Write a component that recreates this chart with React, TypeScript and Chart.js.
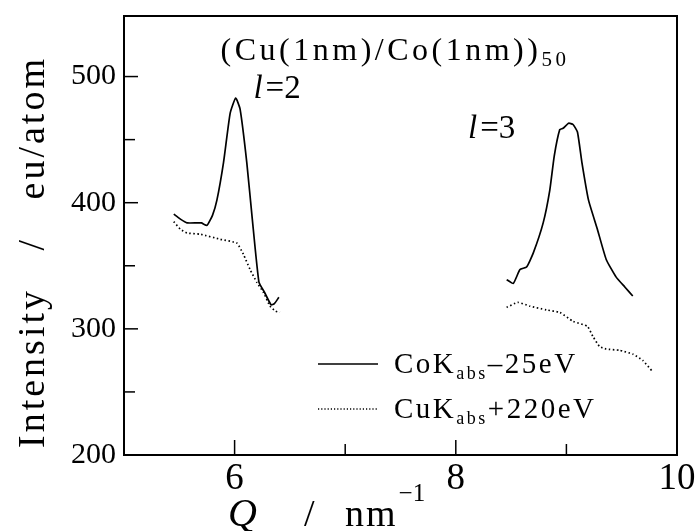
import React, { useEffect, useRef } from "react";
import { Chart, registerables } from "chart.js";
Chart.register(...registerables);

// l=2 region, CoK_abs - 25 eV (solid)
const solidQ2 = [5.45, 5.51, 5.57, 5.66, 5.70, 5.75, 5.80, 5.84, 5.90, 5.96, 6.01, 6.05, 6.11, 6.16, 6.22, 6.27, 6.33, 6.36, 6.40];
const solidI2 = [391, 387, 384, 384, 384, 382, 390, 402, 432, 471, 483, 474, 432, 387, 337, 329, 319, 320, 325];
// l=3 region, CoK_abs - 25 eV (solid)
const solidQ3 = [8.46, 8.52, 8.58, 8.64, 8.70, 8.79, 8.85, 8.89, 8.94, 8.97, 9.02, 9.06, 9.10, 9.14, 9.20, 9.28, 9.36, 9.45, 9.53, 9.60];
const solidI3 = [339, 336, 347, 349, 360, 384, 410, 437, 458, 459, 463, 462, 456, 432, 402, 379, 355, 341, 333, 326];
// l=2 region, CuK_abs + 220 eV (dotted)
const dottedQ2 = [5.45, 5.51, 5.57, 5.69, 5.87, 6.02, 6.08, 6.14, 6.20, 6.26, 6.32, 6.37, 6.41];
const dottedI2 = [385, 379, 376, 375, 371, 368, 359, 347, 337, 329, 318, 314, 313];
// l=3 region, CuK_abs + 220 eV (dotted)
const dottedQ3 = [8.46, 8.56, 8.67, 8.82, 8.94, 9.06, 9.19, 9.24, 9.30, 9.36, 9.48, 9.60, 9.69, 9.78];
const dottedI3 = [317, 321, 318, 315, 313, 306, 302, 294, 286, 284, 283, 280, 275, 266];

const xTicks = [6, 8, 10];
const xMinorTicks = [7, 9];
const yTicks = [200, 300, 400, 500];
const yMinorTicks = [250, 350, 450];

const titleMain = "(Cu(1nm)/Co(1nm))";
const titleSub = "50";
const legendSolid = ["CoK", "abs", "\u201325eV"];
const legendDotted = ["CuK", "abs", "+220eV"];

const FONT = '"Liberation Serif", "Times New Roman", serif';

function pts(xs: number[], ys: number[]) {
  return xs.map((x, i) => ({ x, y: ys[i] }));
}

export default function App() {
  const ref = useRef<HTMLCanvasElement>(null);
  useEffect(() => {
    const overlay = {
      id: "overlay",
      afterDraw(chart: any) {
        const { ctx, chartArea: a } = chart;
        const xs = chart.scales.x;
        const ys = chart.scales.y;
        ctx.save();
        ctx.strokeStyle = "#000";
        ctx.fillStyle = "#000";
        ctx.lineWidth = 2;
        ctx.strokeRect(a.left, a.top, a.right - a.left, a.bottom - a.top);
        ctx.lineWidth = 1.5;
        const seg = (x1: number, y1: number, x2: number, y2: number) => {
          ctx.beginPath();
          ctx.moveTo(x1, y1);
          ctx.lineTo(x2, y2);
          ctx.stroke();
        };
        yTicks.forEach((v) => {
          const p = ys.getPixelForValue(v);
          seg(a.left, p, a.left + 14, p);
        });
        yMinorTicks.forEach((v) => {
          const p = ys.getPixelForValue(v);
          seg(a.left, p, a.left + 11, p);
        });
        xTicks.forEach((v) => {
          const p = xs.getPixelForValue(v);
          if (p < a.right - 2) seg(p, a.bottom, p, a.bottom - 15);
        });
        xMinorTicks.forEach((v) => {
          const p = xs.getPixelForValue(v);
          seg(p, a.bottom, p, a.bottom - 11);
        });

        ctx.textBaseline = "alphabetic";
        ctx.textAlign = "left";
        // title
        (ctx as any).letterSpacing = "3.5px";
        ctx.font = `32px ${FONT}`;
        const wMain = ctx.measureText(titleMain).width;
        ctx.font = `21px ${FONT}`;
        const wSub = ctx.measureText(titleSub).width;
        const tcx = 395;
        const tx = tcx - (wMain + wSub) / 2;
        const ty = a.top + 44;
        ctx.font = `32px ${FONT}`;
        ctx.fillText(titleMain, tx, ty);
        ctx.font = `21px ${FONT}`;
        ctx.fillText(titleSub, tx + wMain, ty + 6);
        (ctx as any).letterSpacing = "0px";

        // l labels
        const drawL = (n: string, qx: number, iy: number) => {
          let px = xs.getPixelForValue(qx);
          const py = ys.getPixelForValue(iy);
          ctx.font = `italic 33px ${FONT}`;
          ctx.fillText("l", px, py);
          px += ctx.measureText("l").width + 3;
          ctx.font = `33px ${FONT}`;
          ctx.fillText("=" + n, px, py);
        };
        drawL("2", 6.17, 483);
        drawL("3", 8.11, 451);

        // legend
        const lx1 = 318, lx2 = 378, tx0 = 394;
        const ly1 = 364, ly2 = 409;
        ctx.lineWidth = 1.5;
        seg(lx1, ly1, lx2, ly1);
        ctx.setLineDash([1.2, 2]);
        seg(lx1, ly2, lx2, ly2);
        ctx.setLineDash([]);
        const drawLeg = (parts: string[], x0: number, base: number) => {
          let x = x0;
          (ctx as any).letterSpacing = "2.5px";
          ctx.font = `29px ${FONT}`;
          ctx.fillText(parts[0], x, base);
          x += ctx.measureText(parts[0]).width;
          ctx.font = `18px ${FONT}`;
          ctx.fillText(parts[1], x, base + 6);
          x += ctx.measureText(parts[1]).width;
          ctx.font = `29px ${FONT}`;
          ctx.fillText(parts[2], x, base);
          (ctx as any).letterSpacing = "0px";
        };
        drawLeg(legendSolid, tx0, ly1 + 9);
        drawLeg(legendDotted, tx0, ly2 + 9);

        // x axis title
        const xb = 526;
        ctx.font = `italic 40px ${FONT}`;
        ctx.fillText("Q", 228, xb);
        ctx.font = `38px ${FONT}`;
        ctx.fillText("/", 304, xb);
        (ctx as any).letterSpacing = "2px";
        ctx.fillText("nm", 345, xb);
        const wnm = ctx.measureText("nm").width;
        (ctx as any).letterSpacing = "0px";
        ctx.font = `25px ${FONT}`;
        ctx.fillText("\u22121", 345 + wnm + 1, xb - 25);

        // y axis title
        ctx.translate(44, 252);
        ctx.rotate(-Math.PI / 2);
        ctx.textAlign = "center";
        (ctx as any).letterSpacing = "3px";
        ctx.font = `38px ${FONT}`;
        ctx.fillText("Intensity   /   eu/atom", 0, 0);
        ctx.restore();
      },
    };

    const lineBase = { borderColor: "#000", pointRadius: 0, fill: false, tension: 0.15 };
    const chart = new Chart(ref.current as HTMLCanvasElement, {
      type: "line",
      data: {
        datasets: [
          { ...lineBase, label: "CoKabs-25eV", data: pts(solidQ2, solidI2), borderWidth: 1.7 },
          { ...lineBase, label: "CoKabs-25eV (l=3)", data: pts(solidQ3, solidI3), borderWidth: 1.7 },
          { ...lineBase, label: "CuKabs+220eV", data: pts(dottedQ2, dottedI2), borderWidth: 1.7, borderDash: [1.5, 2.5] },
          { ...lineBase, label: "CuKabs+220eV (l=3)", data: pts(dottedQ3, dottedI3), borderWidth: 1.7, borderDash: [1.5, 2.5] },
        ],
      } as any,
      options: {
        responsive: false,
        animation: false,
        layout: { padding: { top: 16, right: 19, left: 0, bottom: 0 } },
        plugins: { legend: { display: false }, tooltip: { enabled: false } },
        scales: {
          x: {
            type: "linear",
            min: 5,
            max: 10,
            afterBuildTicks: (s: any) => {
              s.ticks = xTicks.map((v) => ({ value: v }));
            },
            afterFit: (s: any) => {
              s.height = 76;
              s.paddingLeft = 0;
              s.paddingRight = 0;
            },
            grid: { display: false, drawTicks: false },
            border: { display: false },
            ticks: { padding: 2, color: "#000", font: { family: FONT, size: 37 }, maxRotation: 0, autoSkip: false },
          },
          y: {
            type: "linear",
            min: 200,
            max: 548,
            afterBuildTicks: (s: any) => {
              s.ticks = yTicks.map((v) => ({ value: v }));
            },
            afterFit: (s: any) => {
              s.width = 124;
              s.paddingTop = 0;
              s.paddingBottom = 0;
            },
            grid: { display: false, drawTicks: false },
            border: { display: false },
            ticks: { padding: 8, color: "#000", font: { family: FONT, size: 30 } },
          },
        },
      } as any,
      plugins: [overlay],
    });
    return () => chart.destroy();
  }, []);
  return (
    <div style={{ position: "fixed", left: 0, top: 0, width: 696, height: 531, background: "#fff" }}>
      <canvas ref={ref} width={696} height={531} style={{ display: "block" }} />
    </div>
  );
}
